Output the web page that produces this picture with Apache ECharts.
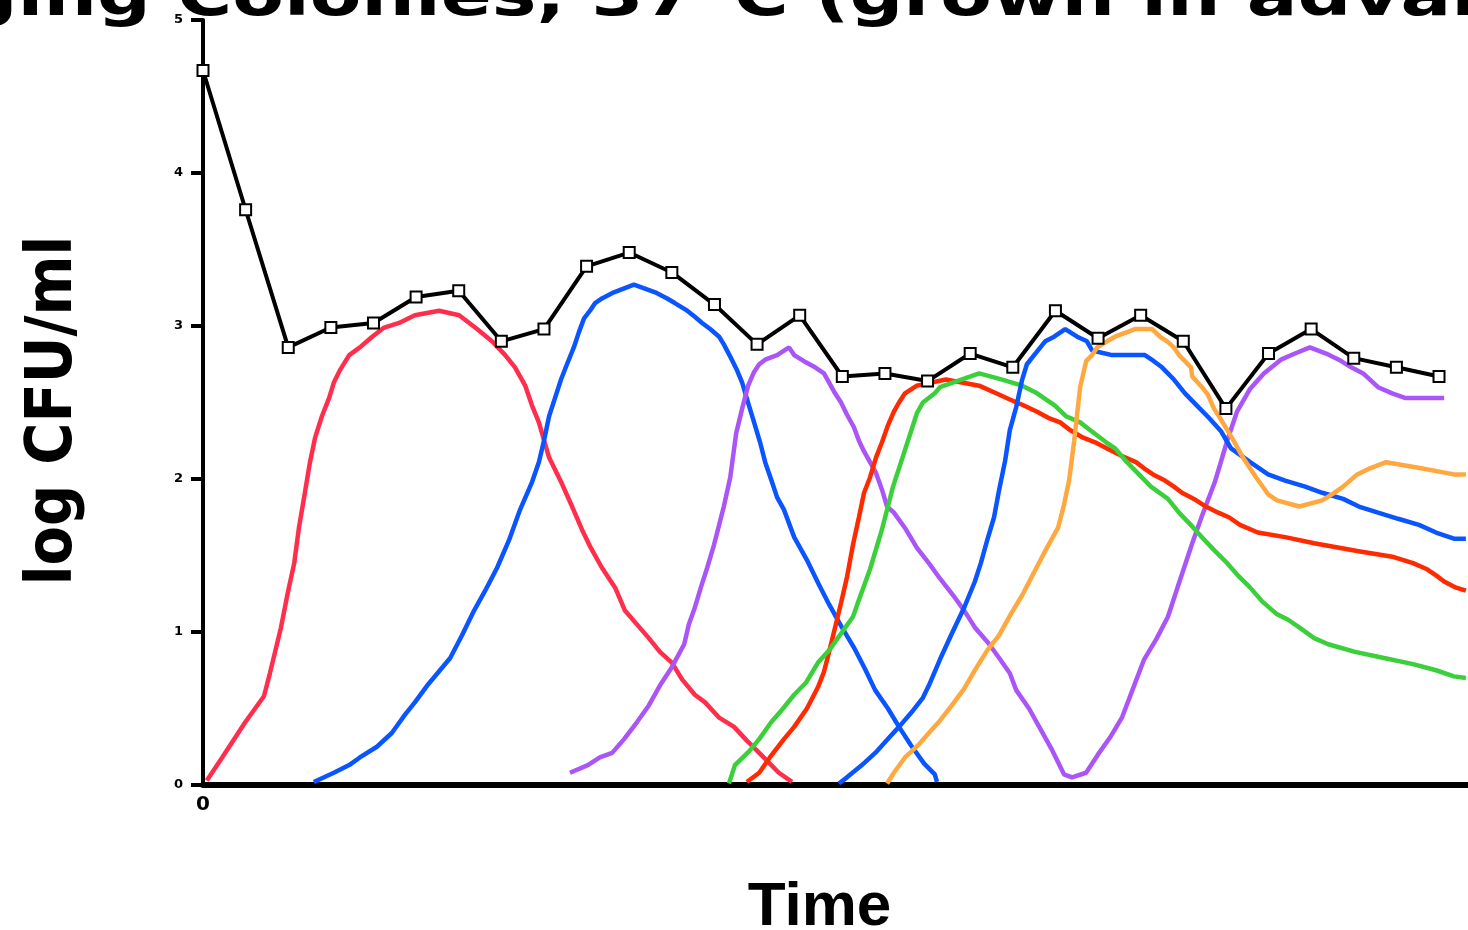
<!DOCTYPE html>
<html>
<head>
<meta charset="utf-8">
<script src="https://cdn.jsdelivr.net/npm/echarts@6/dist/echarts.min.js"></script>
<style>
  html, body { margin: 0; padding: 0; background: #ffffff; overflow: hidden; }
  #chart { width: 1468px; height: 930px; }
</style>
</head>
<body>
<div id="chart"></div>
<script>
// ---- text ----
const titleText = 'Emerging Colonies, 37°C (grown in advance)';
const xAxisName = 'Time';
const yAxisName = 'log CFU/ml';

// ---- axes ----
const yMin = 0, yMax = 5, yStep = 1;
const xMin = 0, xMax = 29.68;

// ---- total count (sampled every time unit) ----
const sampleTimes = [0, 1, 2, 3, 4, 5, 6, 7, 8, 9, 10, 11, 12, 13, 14, 15, 16, 17, 18, 19, 20, 21, 22, 23, 24, 25, 26, 27, 28, 29];
const totalLogCfu = [4.67, 3.76, 2.86, 2.99, 3.02, 3.19, 3.23, 2.90, 2.98, 3.39, 3.48, 3.35, 3.14, 2.88, 3.07, 2.67, 2.69, 2.64, 2.82, 2.73, 3.10, 2.92, 3.07, 2.90, 2.46, 2.82, 2.98, 2.79, 2.73, 2.67];

// ---- individual colony curves: [time, log CFU/ml] ----
const colony1 = [[0.09,0.03],[0.45,0.18],[0.99,0.41],[1.43,0.58],[1.57,0.73],[1.83,1.03],[1.97,1.23],[2.14,1.45],[2.25,1.68],[2.39,1.91],[2.51,2.11],[2.63,2.27],[2.79,2.41],[2.96,2.53],[3.07,2.63],[3.21,2.71],[3.43,2.81],[3.68,2.86],[3.97,2.93],[4.25,2.99],[4.60,3.02],[4.97,3.07],[5.54,3.10],[6.01,3.07],[6.43,2.98],[6.78,2.90],[7.09,2.81],[7.32,2.73],[7.56,2.61],[7.72,2.48],[7.88,2.37],[8.12,2.14],[8.42,1.97],[8.66,1.82],[8.89,1.67],[9.08,1.56],[9.36,1.42],[9.67,1.29],[9.90,1.14],[10.18,1.05],[10.46,0.96],[10.72,0.87],[11.00,0.80],[11.24,0.69],[11.54,0.59],[11.78,0.54],[12.11,0.44],[12.46,0.38],[12.76,0.29],[13.05,0.21],[13.30,0.14],[13.51,0.08],[13.82,0.02]];

const colony2 = [[2.60,0.02],[3.07,0.08],[3.43,0.13],[3.68,0.18],[4.08,0.25],[4.43,0.34],[4.74,0.46],[4.97,0.54],[5.26,0.65],[5.56,0.75],[5.80,0.83],[6.08,0.98],[6.36,1.14],[6.62,1.27],[6.90,1.42],[7.18,1.60],[7.44,1.80],[7.72,1.98],[7.88,2.11],[8.00,2.25],[8.12,2.41],[8.26,2.53],[8.40,2.65],[8.54,2.75],[8.70,2.86],[8.82,2.96],[8.94,3.05],[9.08,3.10],[9.20,3.15],[9.36,3.18],[9.64,3.22],[10.11,3.27],[10.61,3.22],[10.89,3.18],[11.07,3.15],[11.36,3.10],[11.54,3.06],[11.71,3.02],[11.90,2.98],[12.11,2.93],[12.22,2.88],[12.37,2.80],[12.53,2.71],[12.65,2.63],[12.81,2.48],[12.93,2.37],[13.07,2.24],[13.19,2.11],[13.35,1.98],[13.47,1.88],[13.63,1.80],[13.87,1.62],[14.17,1.47],[14.45,1.31],[14.69,1.18],[14.97,1.04],[15.27,0.90],[15.53,0.76],[15.77,0.62],[16.07,0.50],[16.33,0.38],[16.61,0.26],[16.92,0.14],[17.17,0.07],[17.22,0.02]];

const colony3 = [[8.61,0.08],[9.03,0.13],[9.31,0.18],[9.60,0.21],[9.88,0.30],[10.18,0.41],[10.46,0.52],[10.72,0.65],[11.00,0.77],[11.29,0.92],[11.40,1.05],[11.54,1.16],[11.68,1.29],[11.83,1.42],[11.99,1.57],[12.11,1.70],[12.22,1.82],[12.37,2.01],[12.51,2.30],[12.65,2.46],[12.79,2.61],[12.93,2.70],[13.05,2.75],[13.19,2.78],[13.47,2.81],[13.75,2.86],[13.87,2.81],[14.10,2.77],[14.36,2.73],[14.57,2.69],[14.69,2.63],[14.83,2.56],[14.97,2.50],[15.11,2.42],[15.27,2.34],[15.39,2.25],[15.51,2.18],[15.65,2.11],[15.79,2.04],[15.93,1.93],[16.05,1.82],[16.21,1.78],[16.47,1.68],[16.75,1.55],[17.03,1.45],[17.29,1.35],[17.60,1.24],[17.86,1.14],[18.11,1.03],[18.42,0.93],[18.68,0.83],[18.93,0.73],[19.08,0.62],[19.38,0.50],[19.62,0.38],[19.90,0.24],[20.06,0.15],[20.20,0.07],[20.39,0.05],[20.72,0.08],[21.00,0.20],[21.28,0.31],[21.56,0.44],[21.82,0.63],[22.08,0.82],[22.38,0.96],[22.64,1.10],[22.90,1.32],[23.21,1.58],[23.44,1.76],[23.74,1.98],[24.03,2.25],[24.26,2.44],[24.57,2.59],[24.89,2.69],[25.29,2.78],[25.62,2.82],[25.97,2.86],[26.35,2.82],[26.65,2.78],[26.94,2.73],[27.22,2.69],[27.57,2.60],[27.90,2.56],[28.20,2.53],[29.12,2.53]];

const colony4 = [[12.76,0.02],[13.05,0.08],[13.30,0.18],[13.63,0.30],[13.87,0.38],[14.17,0.50],[14.43,0.64],[14.57,0.74],[14.69,0.87],[14.83,1.03],[14.97,1.19],[15.11,1.36],[15.25,1.57],[15.39,1.75],[15.51,1.91],[15.65,2.01],[15.79,2.14],[15.93,2.24],[16.07,2.35],[16.21,2.44],[16.33,2.50],[16.47,2.56],[16.75,2.61],[17.43,2.65],[18.21,2.61],[18.61,2.56],[18.93,2.52],[19.26,2.48],[19.57,2.44],[19.83,2.40],[20.11,2.37],[20.34,2.32],[20.65,2.27],[20.93,2.24],[21.21,2.20],[21.56,2.15],[21.89,2.11],[22.08,2.07],[22.29,2.03],[22.57,1.99],[22.78,1.95],[22.97,1.91],[23.25,1.87],[23.53,1.82],[23.82,1.78],[24.07,1.75],[24.33,1.70],[24.75,1.65],[25.39,1.62],[26.07,1.58],[27.08,1.53],[27.94,1.49],[28.39,1.45],[28.72,1.41],[28.93,1.37],[29.12,1.33],[29.40,1.29],[29.63,1.27]];

const colony5 = [[12.34,0.01],[12.48,0.13],[12.81,0.22],[13.05,0.30],[13.33,0.41],[13.61,0.50],[13.87,0.59],[14.15,0.67],[14.43,0.80],[14.69,0.88],[14.97,0.99],[15.25,1.10],[15.39,1.21],[15.65,1.41],[15.93,1.67],[16.19,1.95],[16.47,2.19],[16.75,2.43],[16.89,2.50],[17.17,2.56],[17.29,2.60],[18.21,2.69],[18.75,2.65],[19.22,2.61],[19.57,2.56],[19.99,2.48],[20.25,2.41],[20.58,2.37],[20.81,2.32],[21.19,2.24],[21.40,2.20],[21.68,2.11],[21.96,2.03],[22.24,1.95],[22.64,1.87],[22.90,1.78],[23.21,1.69],[23.47,1.61],[23.74,1.53],[24.03,1.45],[24.28,1.37],[24.57,1.29],[24.85,1.20],[25.18,1.12],[25.46,1.08],[25.72,1.03],[26.07,0.96],[26.40,0.92],[27.03,0.87],[27.71,0.83],[28.39,0.79],[28.93,0.75],[29.35,0.71],[29.63,0.70]];

const colony6 = [[14.92,0.01],[15.11,0.05],[15.46,0.13],[15.81,0.22],[16.10,0.31],[16.33,0.38],[16.61,0.47],[16.89,0.57],[17.03,0.65],[17.29,0.82],[17.57,0.99],[17.86,1.16],[18.11,1.33],[18.25,1.45],[18.40,1.60],[18.56,1.75],[18.68,1.93],[18.82,2.12],[18.93,2.32],[19.08,2.47],[19.22,2.65],[19.33,2.75],[19.50,2.81],[19.76,2.90],[19.97,2.93],[20.23,2.98],[20.51,2.93],[20.74,2.90],[20.86,2.84],[21.33,2.81],[22.10,2.81],[22.31,2.77],[22.50,2.73],[22.78,2.65],[23.04,2.56],[23.32,2.48],[23.60,2.40],[23.89,2.31],[24.12,2.20],[24.57,2.11],[24.99,2.03],[25.39,1.99],[25.86,1.95],[26.26,1.91],[26.75,1.87],[27.12,1.82],[27.57,1.78],[28.04,1.74],[28.53,1.70],[28.93,1.65],[29.35,1.61],[29.63,1.61]];

const colony7 = [[16.05,0.01],[16.21,0.08],[16.47,0.18],[16.78,0.26],[17.03,0.34],[17.29,0.42],[17.57,0.52],[17.86,0.63],[18.11,0.75],[18.40,0.88],[18.68,0.98],[18.96,1.12],[19.22,1.24],[19.50,1.39],[19.78,1.54],[20.06,1.68],[20.20,1.83],[20.32,1.99],[20.44,2.25],[20.58,2.60],[20.72,2.77],[20.86,2.81],[20.98,2.86],[21.21,2.90],[21.40,2.93],[21.87,2.98],[22.27,2.98],[22.45,2.93],[22.62,2.90],[22.78,2.86],[22.90,2.81],[23.04,2.77],[23.18,2.73],[23.21,2.67],[23.44,2.60],[23.58,2.55],[23.72,2.46],[23.86,2.40],[24.14,2.27],[24.40,2.14],[24.71,2.01],[24.99,1.90],[25.20,1.86],[25.72,1.82],[26.26,1.86],[26.54,1.91],[26.75,1.95],[27.08,2.03],[27.38,2.07],[27.76,2.11],[28.58,2.07],[29.35,2.03],[29.63,2.03]];

const colonySeries = [
  { name: 'Colony 1', data: colony1, color: '#ff2e4c' },
  { name: 'Colony 2', data: colony2, color: '#0a55ff' },
  { name: 'Colony 3', data: colony3, color: '#aa55f8' },
  { name: 'Colony 4', data: colony4, color: '#ff2a00' },
  { name: 'Colony 5', data: colony5, color: '#3ccf3c' },
  { name: 'Colony 6', data: colony6, color: '#0a55ff' },
  { name: 'Colony 7', data: colony7, color: '#ffa840' }
];

const chart = echarts.init(document.getElementById('chart'), null, { renderer: 'canvas' });

// Title runs past both edges; place it so "Colonies" starts near the y axis
const titleFamily = '"DejaVu Sans", sans-serif';
const titleSize = 59;
const mctx = document.createElement('canvas').getContext('2d');
mctx.font = 'bold ' + titleSize + 'px ' + titleFamily;
const wLead = mctx.measureText('Emerging ').width;
const wParen = mctx.measureText('Emerging Colonies, 37°C ').width;
const titleScaleX = (815 - 177) / (wParen - wLead);
const titleX = 177 - titleScaleX * wLead;

const series = colonySeries.map(s => ({
  name: s.name,
  type: 'line',
  data: s.data,
  showSymbol: false,
  symbol: 'none',
  smooth: false,
  lineStyle: { color: s.color, width: 4.5 },
  itemStyle: { color: s.color },
  z: 2,
  silent: true
}));

series.push({
  name: 'Total',
  type: 'line',
  data: sampleTimes.map((t, i) => [t, totalLogCfu[i]]),
  symbol: 'emptyRect',
  symbolSize: 11,
  showSymbol: true,
  lineStyle: { color: '#000', width: 4 },
  itemStyle: { color: '#000', borderColor: '#000', borderWidth: 4 },
  z: 5,
  silent: true
});

chart.setOption({
  animation: false,
  backgroundColor: '#ffffff',
  grid: { left: 203, right: 0, top: 20, bottom: 145, containLabel: false, outerBoundsMode: 'none' },
  graphic: [{
    type: 'text',
    x: titleX,
    y: 0,
    scaleX: titleScaleX,
    z: 20,
    style: {
      text: titleText,
      fontFamily: titleFamily,
      fontWeight: 'bold',
      fontSize: titleSize,
      fill: '#000',
      align: 'left',
      verticalAlign: 'middle'
    }
  }],
  xAxis: {
    type: 'value',
    min: xMin,
    max: xMax,
    interval: 30,
    name: xAxisName,
    nameLocation: 'middle',
    nameGap: 92,
    nameTextStyle: {
      fontFamily: '"Liberation Sans", sans-serif',
      fontWeight: 'bold',
      fontSize: 62,
      color: '#000',
      padding: [0, 32, 0, 0]
    },
    axisLine: { show: true, onZero: false, lineStyle: { color: '#000', width: 6 } },
    axisTick: { show: false },
    splitLine: { show: false },
    axisLabel: {
      show: true,
      showMaxLabel: false,
      margin: 10,
      color: '#000',
      fontFamily: '"DejaVu Sans", sans-serif',
      fontWeight: 'bold',
      fontSize: 20,
      formatter: v => (v === 0 ? '0' : '')
    }
  },
  yAxis: {
    type: 'value',
    min: yMin,
    max: yMax,
    interval: yStep,
    name: yAxisName,
    nameLocation: 'middle',
    nameGap: 117,
    nameTextStyle: {
      fontFamily: '"DejaVu Sans Condensed", "DejaVu Sans", sans-serif',
      fontWeight: 'bold',
      fontSize: 64,
      color: '#000',
      padding: [0, 16, 0, 0]
    },
    axisLine: { show: true, onZero: false, lineStyle: { color: '#000', width: 4 } },
    axisTick: { show: true, inside: false, length: 12, lineStyle: { color: '#000', width: 4 } },
    splitLine: { show: false },
    axisLabel: {
      show: true,
      margin: 20,
      color: '#000',
      fontFamily: '"DejaVu Sans", sans-serif',
      fontWeight: 'bold',
      fontSize: 13
    }
  },
  series: series
});
</script>
</body>
</html>
